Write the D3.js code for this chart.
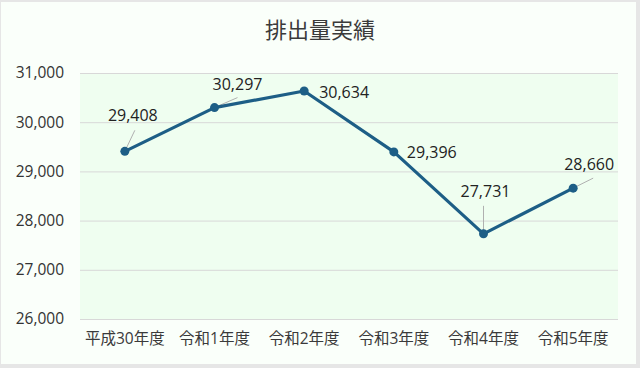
<!DOCTYPE html>
<html><head><meta charset="utf-8">
<script src="https://cdn.jsdelivr.net/npm/d3@7/dist/d3.min.js"></script>
<style>
html,body{margin:0;padding:0;background:#e6e6e6;}
svg{display:block;}
</style></head>
<body>
<svg id="c" width="640" height="368"></svg>
<script>
const categories = ["平成30年度","令和1年度","令和2年度","令和3年度","令和4年度","令和5年度"];
const values = [29408, 30297, 30634, 29396, 27731, 28660];
const yTicks = [26000, 27000, 28000, 29000, 30000, 31000];
const title = "排出量実績";

const font = "'Noto Sans CJK JP', 'Noto Sans', sans-serif";
const numFont = "'Open Sans', 'Noto Sans CJK JP', sans-serif";
const svg = d3.select("#c");
svg.append("rect").attr("x",1).attr("y",2).attr("width",635).attr("height",362).attr("fill","#fafffa");

const L = 80, R = 618, T = 73, B = 319;
const x = d3.scaleBand().domain(categories).range([L, R]);
const y = d3.scaleLinear().domain([26000, 31000]).range([B, T]);

svg.append("rect").attr("x",L).attr("y",T).attr("width",R-L).attr("height",B-T).attr("fill","#effef0");

svg.append("text").attr("x",320).attr("y",38).attr("text-anchor","middle")
  .attr("font-family",font).attr("font-size",22).attr("fill","#3a3a3a").text(title);

const yAxis = svg.append("g").attr("transform",`translate(${L},0)`)
  .call(d3.axisLeft(y).tickValues(yTicks).tickSize(-(R-L)).tickPadding(16).tickFormat(d3.format(",")));
yAxis.select(".domain").remove();
yAxis.selectAll("line").attr("stroke","#d8d8d8").attr("stroke-width",1);
yAxis.selectAll("text").attr("font-family",numFont).attr("font-size",15.5).attr("fill","#333");

const xAxis = svg.append("g").attr("transform",`translate(0,${B})`)
  .call(d3.axisBottom(x).tickSize(0).tickPadding(14));
xAxis.select(".domain").remove();
xAxis.selectAll("text").attr("font-family",numFont).attr("font-size",15.5).attr("fill","#3a3a3a");

const cx = d => x(d) + x.bandwidth()/2;
const pts = categories.map((c,i)=>({c, v: values[i]}));

// label offsets (relative to point) and leader lines
const labelOff = [[8,-36],[23,-23],[15,1],[13,0],[2,-42],[16,-24]];
const anchors = ["middle","middle","start","start","middle","middle"];
const leaders = [[10,-21],[23,-10],null,null,[0,-28],[20,-10]];

pts.forEach((p,i)=>{
  const px = cx(p.c), py = y(p.v);
  if (leaders[i]) svg.append("line").attr("x1",px).attr("y1",py).attr("x2",px+leaders[i][0]).attr("y2",py+leaders[i][1])
    .attr("stroke","#b0b0b0").attr("stroke-width",1);
});

svg.append("path").datum(pts).attr("fill","none").attr("stroke","#1d5e86").attr("stroke-width",3.2)
  .attr("stroke-linejoin","round")
  .attr("d", d3.line().x(d=>cx(d.c)).y(d=>y(d.v)));

svg.selectAll("circle.pt").data(pts).enter().append("circle")
  .attr("cx",d=>cx(d.c)).attr("cy",d=>y(d.v)).attr("r",4.5).attr("fill","#1d5e86");

pts.forEach((p,i)=>{
  const px = cx(p.c), py = y(p.v);
  svg.append("text").attr("x",px+labelOff[i][0]).attr("y",py+labelOff[i][1]).attr("dy","0.35em")
    .attr("text-anchor",anchors[i]).attr("font-family",numFont).attr("font-size",16).attr("fill","#222")
    .text(d3.format(",")(p.v));
});
</script>
</body></html>
